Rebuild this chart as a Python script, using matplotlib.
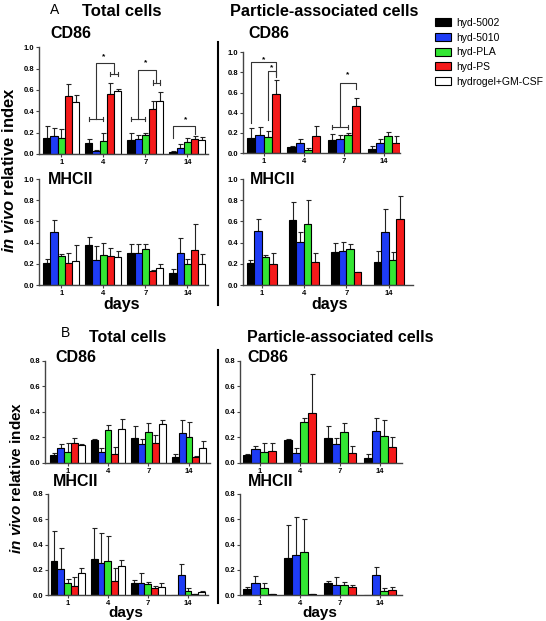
import numpy as np
import matplotlib
matplotlib.use("Agg")
import matplotlib.pyplot as plt
from matplotlib.lines import Line2D

plt.rcParams["font.family"] = ["Liberation Sans", "DejaVu Sans"]
plt.rcParams["mathtext.fontset"] = "custom"
plt.rcParams["mathtext.it"] = "Liberation Sans:italic:bold"
plt.rcParams["mathtext.rm"] = "Liberation Sans:bold"

W, H = 546, 621

days = ["1", "4", "7", "14"]
groups = ["hyd-5002", "hyd-5010", "hyd-PLA", "hyd-PS", "hydrogel+GM-CSF"]
colors = ["#000000", "#1e3cf5", "#33e633", "#f51a1a", "#ffffff"]

# rows = groups, cols = days
a_tot_cd86 = [[0.15, 0.10, 0.13, 0.02], [0.17, 0.03, 0.14, 0.06], [0.15, 0.12, 0.18, 0.11],
              [0.54, 0.56, 0.42, 0.14], [0.49, 0.59, 0.50, 0.13]]
a_tot_cd86_err = [[0.11, 0.04, 0.07, 0.01], [0.07, 0.01, 0.04, 0.03], [0.08, 0.08, 0.02, 0.04],
                  [0.12, 0.11, 0.08, 0.03], [0.06, 0.02, 0.08, 0.03]]

a_par_cd86 = [[0.15, 0.06, 0.125, 0.04], [0.18, 0.10, 0.14, 0.10], [0.155, 0.033, 0.18, 0.17],
              [0.59, 0.17, 0.47, 0.10]]
a_par_cd86_err = [[0.10, 0.01, 0.065, 0.026], [0.08, 0.04, 0.04, 0.04], [0.065, 0.012, 0.02, 0.035],
                  [0.13, 0.10, 0.075, 0.065]]

a_tot_mhc = [[0.21, 0.38, 0.30, 0.11], [0.50, 0.24, 0.30, 0.30], [0.27, 0.28, 0.34, 0.20],
             [0.21, 0.27, 0.13, 0.33], [0.23, 0.26, 0.165, 0.20]]
a_tot_mhc_err = [[0.04, 0.07, 0.09, 0.04], [0.11, 0.13, 0.09, 0.14], [0.02, 0.12, 0.05, 0.05],
                 [0.09, 0.08, 0.01, 0.25], [0.15, 0.06, 0.035, 0.09]]

a_par_mhc = [[0.21, 0.61, 0.31, 0.22], [0.51, 0.41, 0.32, 0.50], [0.26, 0.58, 0.34, 0.24],
             [0.20, 0.22, 0.12, 0.62]]
a_par_mhc_err = [[0.03, 0.17, 0.09, 0.10], [0.11, 0.09, 0.09, 0.22], [0.02, 0.22, 0.05, 0.07],
                 [0.10, 0.08, 0.005, 0.22]]

b_tot_cd86 = [[0.06, 0.178, 0.194, 0.045], [0.113, 0.081, 0.147, 0.231], [0.087, 0.257, 0.241, 0.205],
              [0.152, 0.071, 0.157, 0.042], [0.139, 0.268, 0.302, 0.113]]
b_tot_cd86_err = [[0.013, 0.006, 0.092, 0.021], [0.032, 0.037, 0.039, 0.105], [0.07, 0.04, 0.074, 0.118],
                  [0.045, 0.055, 0.058, 0.013], [0.006, 0.073, 0.031, 0.06]]

b_par_cd86 = [[0.06, 0.178, 0.197, 0.034], [0.105, 0.079, 0.147, 0.249], [0.087, 0.318, 0.239, 0.213],
              [0.089, 0.388, 0.073, 0.126]]
b_par_cd86_err = [[0.008, 0.006, 0.092, 0.032], [0.024, 0.034, 0.045, 0.105], [0.065, 0.031, 0.076, 0.123],
                  [0.063, 0.31, 0.058, 0.079]]

b_tot_mhc = [[0.27, 0.286, 0.098, 0.003], [0.204, 0.257, 0.098, 0.159], [0.098, 0.273, 0.087, 0.034],
             [0.074, 0.111, 0.056, 0.008], [0.177, 0.23, 0.066, 0.024]]
b_tot_mhc_err = [[0.24, 0.244, 0.021, 0.0], [0.166, 0.233, 0.079, 0.085], [0.032, 0.197, 0.019, 0.019],
                 [0.072, 0.106, 0.018, 0.003], [0.033, 0.048, 0.027, 0.008]]

b_par_mhc = [[0.045, 0.297, 0.094, 0.003], [0.092, 0.32, 0.081, 0.155], [0.055, 0.339, 0.081, 0.034],
             [0.008, 0.008, 0.06, 0.037]]
b_par_mhc_err = [[0.021, 0.259, 0.014, 0.0], [0.058, 0.297, 0.061, 0.065], [0.042, 0.265, 0.024, 0.018],
                 [0.002, 0.002, 0.019, 0.029]]


def rect(x0, y0, x1, y1):
    # pixel box -> figure fraction
    return [x0 / W, 1 - y1 / H, (x1 - x0) / W, (y1 - y0) / H]


def draw_panel(ax, means, errs, width, xlim, ymax):
    n = len(means)
    xs = np.arange(len(days))
    bars = []
    for i in range(n):
        m = np.array(means[i])
        e = np.array(errs[i])
        x = xs + (i - (n - 1) / 2) * width
        b = ax.bar(x, m, width, color=colors[i], edgecolor="black", linewidth=0.8,
                   label=groups[i], zorder=2)
        bars.append(b)
        keep = e > 0
        ax.errorbar(x[keep], m[keep], yerr=[np.zeros(keep.sum()), e[keep]], fmt="none",
                    ecolor="#222222", elinewidth=0.8, capsize=1.8, capthick=0.8, zorder=1)
    ax.set_xlim(*xlim)
    ax.set_ylim(0, ymax)
    ticks = np.arange(0, ymax + 0.01, 0.2)
    ax.set_yticks(ticks)
    ax.set_yticklabels([f"{v:.1f}" for v in ticks])
    ax.set_xticks(xs)
    ax.set_xticklabels(days)
    for s in ["top", "right"]:
        ax.spines[s].set_visible(False)
    for s in ["left", "bottom"]:
        ax.spines[s].set_color("#444444")
        ax.spines[s].set_linewidth(1.0)
    ax.tick_params(length=2, width=0.8, colors="#444444", labelsize=5.5, pad=1.5)
    for lab in ax.get_xticklabels() + ax.get_yticklabels():
        lab.set_fontweight("bold")
        lab.set_color("black")
    return bars


def hbar(ax, x0, x1, y, c=0.02):
    ax.plot([x0, x1], [y, y], color="#333333", lw=0.8, clip_on=False)
    ax.plot([x0, x0], [y - c, y + c], color="#333333", lw=0.8, clip_on=False)
    ax.plot([x1, x1], [y - c, y + c], color="#333333", lw=0.8, clip_on=False)


def bracket(ax, x0, y0, x1, y1, top):
    ax.plot([x0, x0, x1, x1], [y0, top, top, y1], color="#333333", lw=0.8, clip_on=False)


def star(ax, x, y):
    ax.text(x, y, "*", ha="center", va="center", fontsize=6, fontweight="bold")


fig = plt.figure(figsize=(W / 100, H / 100), dpi=100)

# ---- A ----
w5 = 0.171
ax1 = fig.add_axes(rect(39.3, 47.3, 208, 154))
bars = draw_panel(ax1, a_tot_cd86, a_tot_cd86_err, w5, (-0.52, 3.49), 1.0)
# day 4
hbar(ax1, 1 - 2 * w5, 1, 0.33)
hbar(ax1, 1 + w5, 1 + 2 * w5, 0.75)
bracket(ax1, 1 - w5, 0.33, 1 + 1.5 * w5, 0.75, 0.85)
star(ax1, 1, 0.91)
# day 7
hbar(ax1, 2 - 2 * w5, 2, 0.33)
hbar(ax1, 2 + w5, 2 + 2 * w5, 0.67)
bracket(ax1, 2 - w5, 0.33, 2 + 1.5 * w5, 0.67, 0.79)
star(ax1, 2, 0.86)
# day 14
bracket(ax1, 3 - 2 * w5, 0.15, 3 + w5, 0.19, 0.26)
star(ax1, 3 - 0.3 * w5, 0.32)

w4 = 0.203
ax2 = fig.add_axes(rect(243.3, 52.3, 400, 153))
draw_panel(ax2, a_par_cd86, a_par_cd86_err, w4, (-0.507, 3.40), 1.0)
bracket(ax2, -1.5 * w4, 0.30, 1.5 * w4, 0.77, 0.90)
bracket(ax2, 0.5 * w4, 0.33, 1.5 * w4, 0.75, 0.81)
star(ax2, 0, 0.93)
star(ax2, w4, 0.85)
hbar(ax2, 2 - 1.5 * w4, 2 + 0.5 * w4, 0.26)
bracket(ax2, 2 - 0.5 * w4, 0.26, 2 + 1.5 * w4, 0.64, 0.70)
star(ax2, 2 + 0.5 * w4, 0.78)

ax3 = fig.add_axes(rect(39.3, 179, 208, 285))
draw_panel(ax3, a_tot_mhc, a_tot_mhc_err, w5, (-0.52, 3.49), 1.0)

ax4 = fig.add_axes(rect(243.3, 179, 413, 285))
draw_panel(ax4, a_par_mhc, a_par_mhc_err, 0.177, (-0.43, 3.57), 1.0)

# ---- B ----
ax5 = fig.add_axes(rect(45, 361, 210, 462.7))
draw_panel(ax5, b_tot_cd86, b_tot_cd86_err, 0.17, (-0.556, 3.52), 0.8)

ax6 = fig.add_axes(rect(240, 361, 402, 462.7))
draw_panel(ax6, b_par_cd86, b_par_cd86_err, 0.2, (-0.485, 3.54), 0.8)

ax7 = fig.add_axes(rect(48, 494, 208, 595))
draw_panel(ax7, b_tot_mhc, b_tot_mhc_err, 0.17, (-0.49, 3.5), 0.8)

ax8 = fig.add_axes(rect(240, 494, 402, 595))
draw_panel(ax8, b_par_mhc, b_par_mhc_err, 0.2, (-0.485, 3.54), 0.8)


def ftext(x, y, s, **kw):
    fig.text(x / W, 1 - y / H, s, **kw)


ftext(55, 10, "A", fontsize=10, ha="center", va="center")
ftext(122, 12, "Total cells", fontsize=12, fontweight="bold", ha="center", va="center")
ftext(230, 12, "Particle-associated cells", fontsize=11.7, fontweight="bold", ha="left", va="center")
ftext(50, 33, "CD86", fontsize=11.5, fontweight="bold", ha="left", va="center")
ftext(248, 33, "CD86", fontsize=11.5, fontweight="bold", ha="left", va="center")
ftext(48, 180, "MHCII", fontsize=11.5, fontweight="bold", ha="left", va="center")
ftext(250, 180, "MHCII", fontsize=11.5, fontweight="bold", ha="left", va="center")
ftext(122, 305, "days", fontsize=11.5, fontweight="bold", ha="center", va="center")
ftext(330, 305, "days", fontsize=11.5, fontweight="bold", ha="center", va="center")
ftext(9, 170, r"$\it{in\ vivo}$ relative index", fontsize=12, fontweight="bold",
      rotation=90, ha="center", va="center")

ftext(65, 333, "B", fontsize=10, ha="center", va="center")
ftext(128, 338, "Total cells", fontsize=11.5, fontweight="bold", ha="center", va="center")
ftext(247, 338, "Particle-associated cells", fontsize=11.5, fontweight="bold", ha="left", va="center")
ftext(55, 357, "CD86", fontsize=11.5, fontweight="bold", ha="left", va="center")
ftext(247, 357, "CD86", fontsize=11.5, fontweight="bold", ha="left", va="center")
ftext(53, 481, "MHCII", fontsize=11.5, fontweight="bold", ha="left", va="center")
ftext(248, 481, "MHCII", fontsize=11.5, fontweight="bold", ha="left", va="center")
ftext(126, 613, "days", fontsize=11, fontweight="bold", ha="center", va="center")
ftext(320, 613, "days", fontsize=11, fontweight="bold", ha="center", va="center")
ftext(17, 478, r"$\it{in\ vivo}$ relative index", fontsize=11, fontweight="bold",
      rotation=90, ha="center", va="center")

# divider lines
for y0, y1 in [(42, 305), (350, 603)]:
    fig.add_artist(Line2D([218 / W, 218 / W], [1 - y0 / H, 1 - y1 / H],
                          transform=fig.transFigure, color="black", lw=1.5))

fig.legend(handles=bars, labels=groups, loc="upper left",
           bbox_to_anchor=(435 / W, 1 - 18 / H), frameon=False, fontsize=7.5,
           handlelength=1.5, handleheight=0.8, labelspacing=0.45, handletextpad=0.5,
           borderpad=0, borderaxespad=0)

fig.savefig("out.png", dpi=100)
